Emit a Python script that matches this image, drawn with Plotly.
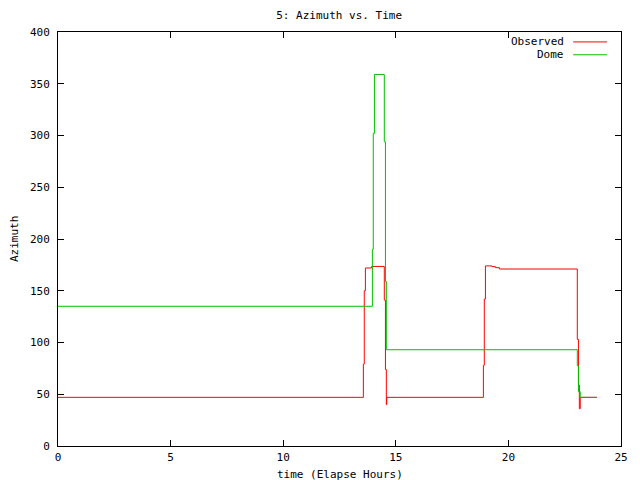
import plotly.graph_objects as go

# Observed azimuth (step data, hours / degrees)
obs_time = [0, 13.56, 13.60, 13.65, 13.93, 14.49, 14.54, 14.58, 14.60,
            18.89, 18.93, 18.98, 19.27, 19.42, 19.60,
            23.06, 23.11, 23.15, 23.19, 23.93]
obs_az = [47, 79, 150, 172, 173.5, 141, 74, 40, 47,
          78, 142, 174, 173.3, 172.3, 171,
          103, 59, 36, 47, 47]

# Dome azimuth (step data)
dome_time = [0, 13.96, 14.00, 14.05, 14.49, 14.54, 14.58,
             23.06, 23.11, 23.19, 23.93]
dome_az = [135, 190, 302, 359, 294, 159, 93,
           77.6, 52.5, 47, 47]

x_ticks = [0, 5, 10, 15, 20, 25]
y_ticks = [0, 50, 100, 150, 200, 250, 300, 350, 400]

FONT = "DejaVu Sans Mono"
RED = "#ff0000"
GREEN = "#00c000"
TXT = dict(family=FONT, size=11, color="black")

fig = go.Figure()
fig.add_trace(go.Scatter(x=obs_time, y=obs_az, mode="lines", line_shape="hv",
                         line=dict(color=RED, width=1), name="Observed",
                         showlegend=False))
fig.add_trace(go.Scatter(x=dome_time, y=dome_az, mode="lines", line_shape="hv",
                         line=dict(color=GREEN, width=1), name="Dome",
                         showlegend=False))

axis_common = dict(showgrid=False, zeroline=False, showline=True,
                   linecolor="black", linewidth=1, mirror="ticks",
                   ticks="inside", ticklen=6, tickcolor="black",
                   automargin=False, tickfont=TXT)

fig.update_xaxes(range=[0, 25], tickvals=x_ticks, ticklabelstandoff=1,
                 **axis_common)
fig.update_yaxes(range=[0, 400], tickvals=y_ticks, ticklabelstandoff=5,
                 **axis_common)

# axis titles
fig.add_annotation(x=0.5, y=-0.07, xref="paper", yref="paper",
                   text="time (Elapse Hours)", showarrow=False,
                   xanchor="center", yanchor="middle", font=TXT)
fig.add_annotation(x=-0.078, y=0.5, xref="paper", yref="paper",
                   text="Azimuth", showarrow=False, textangle=-90,
                   xanchor="center", yanchor="middle", font=TXT)

# gnuplot-style legend: label right-aligned, line sample on the right
legend_rows = [("Observed", RED, 0.976), ("Dome", GREEN, 0.945)]
for label, color, ypos in legend_rows:
    fig.add_annotation(x=0.902, y=ypos, xref="paper", yref="paper",
                       text=label, showarrow=False, xanchor="right",
                       yanchor="middle", font=TXT)
    fig.add_shape(type="line", xref="paper", yref="paper",
                  x0=0.915, x1=0.975, y0=ypos, y1=ypos,
                  line=dict(color=color, width=1))

# the page body adds an 8px margin, so the figure is 8px smaller
fig.update_layout(
    width=632, height=472,
    margin=dict(l=50, r=19, t=24, b=34, autoexpand=False),
    paper_bgcolor="white", plot_bgcolor="white",
    title=dict(text="5: Azimuth vs. Time", x=0.524, xanchor="center",
               y=0.985, yanchor="middle", font=TXT, automargin=False),
)

fig.write_html("out.html")
